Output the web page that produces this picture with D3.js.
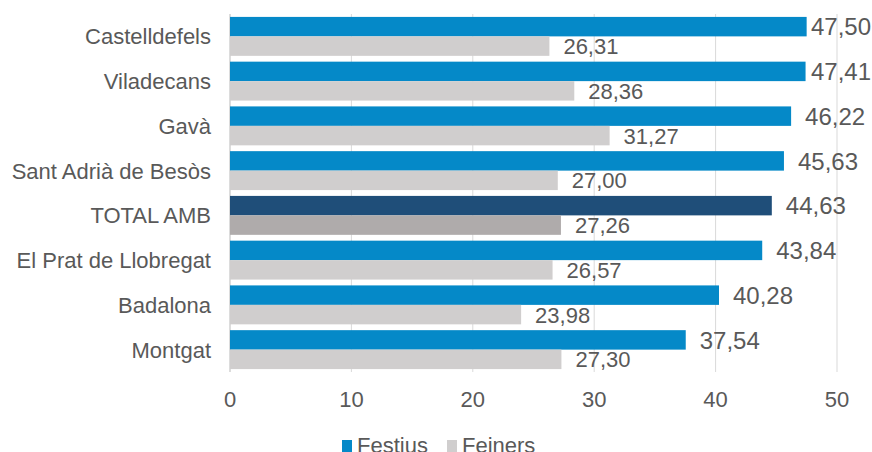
<!DOCTYPE html>
<html lang="ca">
<head>
<meta charset="UTF-8">
<title>Festius / Feiners</title>
<script src="https://cdn.jsdelivr.net/npm/d3@7"></script>
<style>
  body { margin: 0; background: #fff; overflow: hidden; }
  text { font-family: "Liberation Sans", Arial, sans-serif; fill: #595959; }
</style>
</head>
<body>
<svg width="872" height="452"></svg>
<script>
  var categories = ["Castelldefels", "Viladecans", "Gavà", "Sant Adrià de Besòs", "TOTAL AMB", "El Prat de Llobregat", "Badalona", "Montgat"];
  var festius = [47.50, 47.41, 46.22, 45.63, 44.63, 43.84, 40.28, 37.54];
  var feiners = [26.31, 28.36, 31.27, 27.00, 27.26, 26.57, 23.98, 27.30];
  var ticks = [0, 10, 20, 30, 40, 50];
  var seriesNames = ["Festius", "Feiners"];

  var svg = d3.select("svg"),
    W = +svg.attr("width");

  var x = d3.scaleLinear().domain([0, 50]).range([230, 837]);
  var y = d3.scaleBand().domain(categories).range([14, 372]).paddingInner(0.13).paddingOuter(0.065);
  var sub = d3.scaleBand().domain(seriesNames).range([0, y.bandwidth()]);

  var fmt = function (v) { return v.toFixed(2).replace(".", ","); };
  var isTotal = function (c) { return c === "TOTAL AMB"; };

  // gridlines
  svg.append("g").selectAll("line")
    .data(ticks.slice(1))
    .enter().append("line")
    .attr("x1", function (d) { return x(d); })
    .attr("x2", function (d) { return x(d); })
    .attr("y1", 14).attr("y2", 372)
    .attr("stroke", "#d9d9d9").attr("stroke-width", 1);

  // left axis line
  svg.append("line")
    .attr("x1", x(0)).attr("x2", x(0)).attr("y1", 14).attr("y2", 372)
    .attr("stroke", "#d0d0d0").attr("stroke-width", 1.5);

  var rows = categories.map(function (c, i) { return { cat: c, fe: festius[i], fn: feiners[i] }; });

  var g = svg.append("g").selectAll("g")
    .data(rows)
    .enter().append("g")
    .attr("transform", function (d) { return "translate(0," + y(d.cat) + ")"; });

  g.append("rect")
    .attr("x", x(0))
    .attr("y", sub("Festius"))
    .attr("width", function (d) { return x(d.fe) - x(0); })
    .attr("height", sub.bandwidth())
    .attr("fill", function (d) { return isTotal(d.cat) ? "#1f4e79" : "#0589c8"; });

  g.append("rect")
    .attr("x", x(0))
    .attr("y", sub("Feiners"))
    .attr("width", function (d) { return x(d.fn) - x(0); })
    .attr("height", sub.bandwidth())
    .attr("fill", function (d) { return isTotal(d.cat) ? "#afabab" : "#d0cece"; });

  // value labels
  g.append("text")
    .attr("x", function (d) { return x(d.fe) + 14; })
    .attr("y", sub("Festius") + sub.bandwidth() / 2)
    .attr("dy", "0.36em")
    .style("font-size", "24px")
    .text(function (d) { return fmt(d.fe); })
    .each(function () {
      // keep it inside the picture like Excel does
      var w = this.getComputedTextLength(), x0 = +this.getAttribute("x");
      if (x0 + w > W - 1) this.setAttribute("x", W - 1 - w);
    });

  g.append("text")
    .attr("x", function (d) { return x(d.fn) + 14; })
    .attr("y", sub("Feiners") + sub.bandwidth() / 2)
    .attr("dy", "0.36em")
    .style("font-size", "22px")
    .text(function (d) { return fmt(d.fn); });

  // category labels
  svg.append("g").selectAll("text")
    .data(categories)
    .enter().append("text")
    .attr("x", 211)
    .attr("y", function (d) { return y(d) + y.bandwidth() / 2; })
    .attr("dy", "0.36em")
    .attr("text-anchor", "end")
    .style("font-size", "22px")
    .text(function (d) { return d; });

  // x tick labels
  svg.append("g").selectAll("text")
    .data(ticks)
    .enter().append("text")
    .attr("x", function (d) { return x(d); })
    .attr("y", 399)
    .attr("dy", "0.36em")
    .attr("text-anchor", "middle")
    .style("font-size", "22px")
    .text(function (d) { return d; });

  // legend (sits partly below the bottom edge, as in the original)
  var leg = svg.append("g");
  var legX = [342, 447], legCol = ["#0589c8", "#d0cece"];
  seriesNames.forEach(function (s, i) {
    leg.append("rect").attr("x", legX[i]).attr("y", 440).attr("width", 10).attr("height", 14).attr("fill", legCol[i]);
    leg.append("text").attr("x", legX[i] + 15).attr("y", 453)
      .style("font-size", "22px").text(s);
  });
</script>
</body>
</html>
